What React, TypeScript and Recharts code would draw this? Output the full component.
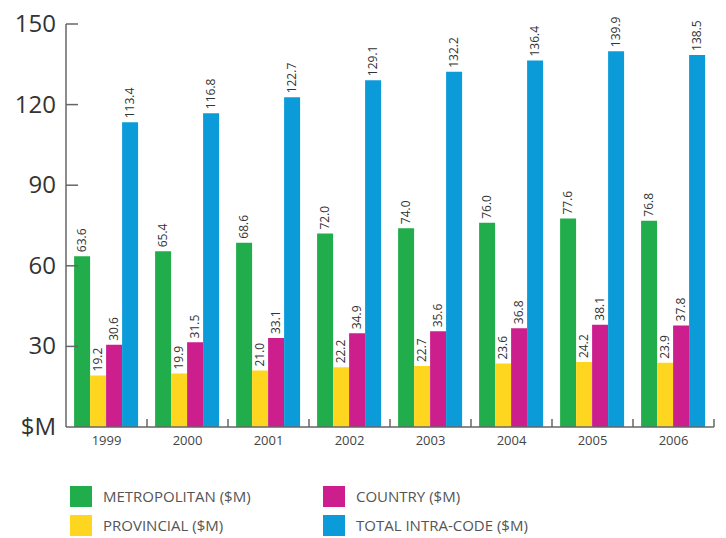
import { Bar, BarChart, LabelList, XAxis, YAxis } from "recharts";

const YEARS = ["1999", "2000", "2001", "2002", "2003", "2004", "2005", "2006"];
const METRO = [63.6, 65.4, 68.6, 72.0, 74.0, 76.0, 77.6, 76.8];
const PROVINCIAL = [19.2, 19.9, 21.0, 22.2, 22.7, 23.6, 24.2, 23.9];
const COUNTRY = [30.6, 31.5, 33.1, 34.9, 35.6, 36.8, 38.1, 37.8];
const TOTAL = [113.4, 116.8, 122.7, 129.1, 132.2, 136.4, 139.9, 138.5];
const Y_TICKS = [0, 30, 60, 90, 120, 150];

const SERIES = [
  { key: "metro", name: "METROPOLITAN ($M)", color: "#21ad4b" },
  { key: "provincial", name: "PROVINCIAL ($M)", color: "#ffd61f" },
  { key: "country", name: "COUNTRY ($M)", color: "#cc1f8d" },
  { key: "total", name: "TOTAL INTRA-CODE ($M)", color: "#0b9bd9" },
];

const data = YEARS.map((year, i) => ({
  year,
  metro: METRO[i],
  provincial: PROVINCIAL[i],
  country: COUNTRY[i],
  total: TOTAL[i],
}));

const FONT = "'Open Sans', 'DejaVu Sans', sans-serif";
const AXIS = "#666666";

function YTick({ x, y, payload }: any) {
  return (
    <g>
      {payload.value !== 0 && <line x1={x} x2={x + 12} y1={y} y2={y} stroke={AXIS} strokeWidth={1.5} />}
      <text x={x - 10} y={y} dy={8} textAnchor="end" fontSize={24} fill="#333" fontFamily={FONT}>
        {payload.value === 0 ? "$M" : payload.value}
      </text>
    </g>
  );
}

function XTick({ x, y, payload }: any) {
  const right = x + (payload.offset ?? 0);
  return (
    <g>
      <line x1={right} x2={right} y1={y} y2={y - 8} stroke={AXIS} strokeWidth={1.5} />
      <text x={x} y={y + 18} textAnchor="middle" fontSize={13} fill="#444" fontFamily={FONT}>
        {payload.value}
      </text>
    </g>
  );
}

function BarValue({ x, y, width, value }: any) {
  const cx = x + width / 2;
  const cy = y - 4;
  return (
    <text
      x={cx}
      y={cy}
      transform={`rotate(-90 ${cx} ${cy})`}
      dy={4}
      textAnchor="start"
      fontSize={12}
      fill="#333"
      fontFamily={FONT}
    >
      {Number(value).toFixed(1)}
    </text>
  );
}

export default function App() {
  return (
    <div style={{ position: "absolute", left: 0, top: 0, width: 726, height: 538, background: "#fff", overflow: "hidden" }}>
      <BarChart
        width={726}
        height={460}
        data={data}
        margin={{ top: 24, right: 12, left: 0, bottom: 5 }}
        barGap={0}
        barCategoryGap="10%"
      >
        <YAxis
          domain={[0, 150]}
          ticks={Y_TICKS}
          width={66}
          tickSize={0}
          tickMargin={0}
          tickLine={false}
          axisLine={{ stroke: AXIS, strokeWidth: 1.5 }}
          tick={<YTick />}
          interval={0}
        />
        <XAxis
          dataKey="year"
          height={28}
          tickSize={0}
          tickMargin={0}
          tickLine={false}
          axisLine={{ stroke: AXIS, strokeWidth: 1.5 }}
          tick={<XTick />}
          interval={0}
        />
        {SERIES.map((s) => (
          <Bar key={s.key} dataKey={s.key} name={s.name} fill={s.color} isAnimationActive={false}>
            <LabelList dataKey={s.key} content={<BarValue />} />
          </Bar>
        ))}
      </BarChart>
      <div
        style={{
          position: "absolute",
          left: 70,
          top: 486,
          display: "grid",
          gridTemplateColumns: "253px 300px",
          rowGap: 8,
          fontFamily: FONT,
          fontSize: 15,
          color: "#555",
        }}
      >
        {[SERIES[0], SERIES[2], SERIES[1], SERIES[3]].map((s) => (
          <div key={s.key} style={{ display: "flex", alignItems: "center", height: 21, lineHeight: "21px" }}>
            <span style={{ width: 22, height: 21, background: s.color, display: "inline-block", marginRight: 11 }} />
            <span>{s.name}</span>
          </div>
        ))}
      </div>
    </div>
  );
}
